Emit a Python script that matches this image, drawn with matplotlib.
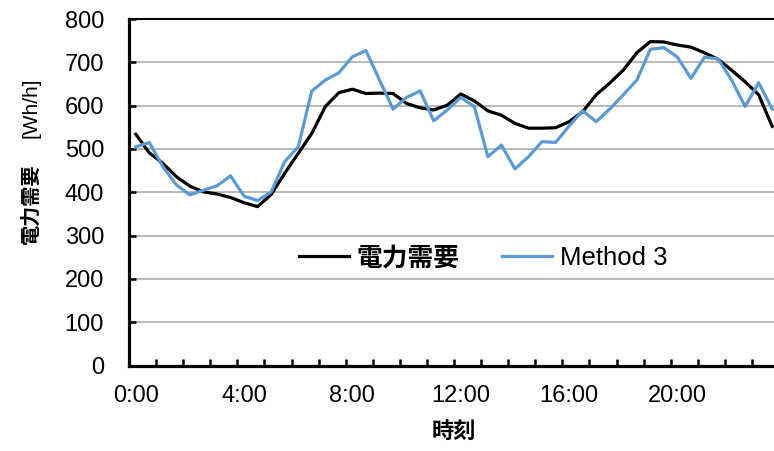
import numpy as np
import matplotlib
matplotlib.use("Agg")
import matplotlib.pyplot as plt

plt.rcParams['font.family'] = ['Liberation Sans', 'Noto Sans CJK JP']

# Half-hour time slots
slots = [f"{h}:{m:02d}" for h in range(24) for m in (0, 30)]

# Electricity demand [Wh/h]
demand = [534, 491, 467, 436, 414, 401, 396, 388, 376, 367,
          395, 444, 490, 536, 598, 630, 638, 628, 629, 628,
          605, 595, 590, 601, 627, 611, 588, 578, 559, 548,
          548, 549, 563, 586, 625, 652, 682, 722, 748, 747,
          740, 735, 722, 707, 682, 655, 625, 552]

# Method 3 prediction [Wh/h]
method3 = [505, 515, 459, 417, 394, 405, 415, 438, 391, 381,
           401, 471, 505, 634, 659, 676, 713, 727, 659, 592,
           619, 634, 565, 590, 619, 598, 482, 509, 454, 482,
           517, 515, 553, 588, 563, 592, 625, 659, 730, 734,
           712, 663, 712, 708, 659, 598, 653, 592]

series_names = ["電力需要", "Method 3"]
y_ticks = [0, 100, 200, 300, 400, 500, 600, 700, 800]

W, H = 774, 451
fig = plt.figure(figsize=(W / 100, H / 100), dpi=100)
ax = fig.add_axes([129 / W, (H - 365.6) / H, 650 / W, 346.6 / H])

x = np.arange(len(slots))
ax.plot(x, demand, color="black", lw=2.3, label=series_names[0], zorder=3)
ax.plot(x, method3, color="#5B9BD5", lw=2.3, label=series_names[1], zorder=3)

ax.set_xlim(-0.5, len(slots) - 0.5)
ax.set_ylim(0, 800)
ax.set_yticks(y_ticks)
ax.yaxis.grid(True, color="#A6A6A6", lw=1.1)
ax.set_axisbelow(True)

# Category labels every 4 hours, tick marks every hour between categories
ax.set_xticks(x[::8])
ax.set_xticklabels([slots[i] for i in x[::8]])
ax.set_xticks(np.arange(-0.5, len(slots), 2), minor=True)
ax.tick_params(axis="x", which="major", length=0, pad=14, labelsize=17)
ax.tick_params(axis="x", which="minor", direction="in", length=5, width=1.8)
ax.tick_params(axis="y", direction="in", length=5, width=1.8, pad=18, labelsize=17)

for s in ("left", "bottom"):
    ax.spines[s].set_linewidth(2.3)
ax.spines["top"].set_linewidth(1.5)
ax.spines["right"].set_visible(False)

leg = ax.legend(loc="center", bbox_to_anchor=(0.545, 0.31), ncol=2, frameon=False,
                fontsize=18.5, handlelength=1.95, columnspacing=1.65, handletextpad=0.3)
leg.get_texts()[0].set_fontweight("bold")
for line in leg.get_lines():
    line.set_linewidth(2.3)

fig.text((129 + 779) / 2 / W, 1 - 432 / H, "時刻", ha="center", va="center",
         fontsize=16, fontweight="bold")
fig.text(31 / W, 1 - 204 / H, "電力需要", rotation=90, ha="center", va="center",
         fontsize=14.5, fontweight="bold")
fig.text(31 / W, 1 - 108 / H, "[Wh/h]", rotation=90, ha="center", va="center",
         fontsize=15)

fig.savefig("out.png", dpi=100)
